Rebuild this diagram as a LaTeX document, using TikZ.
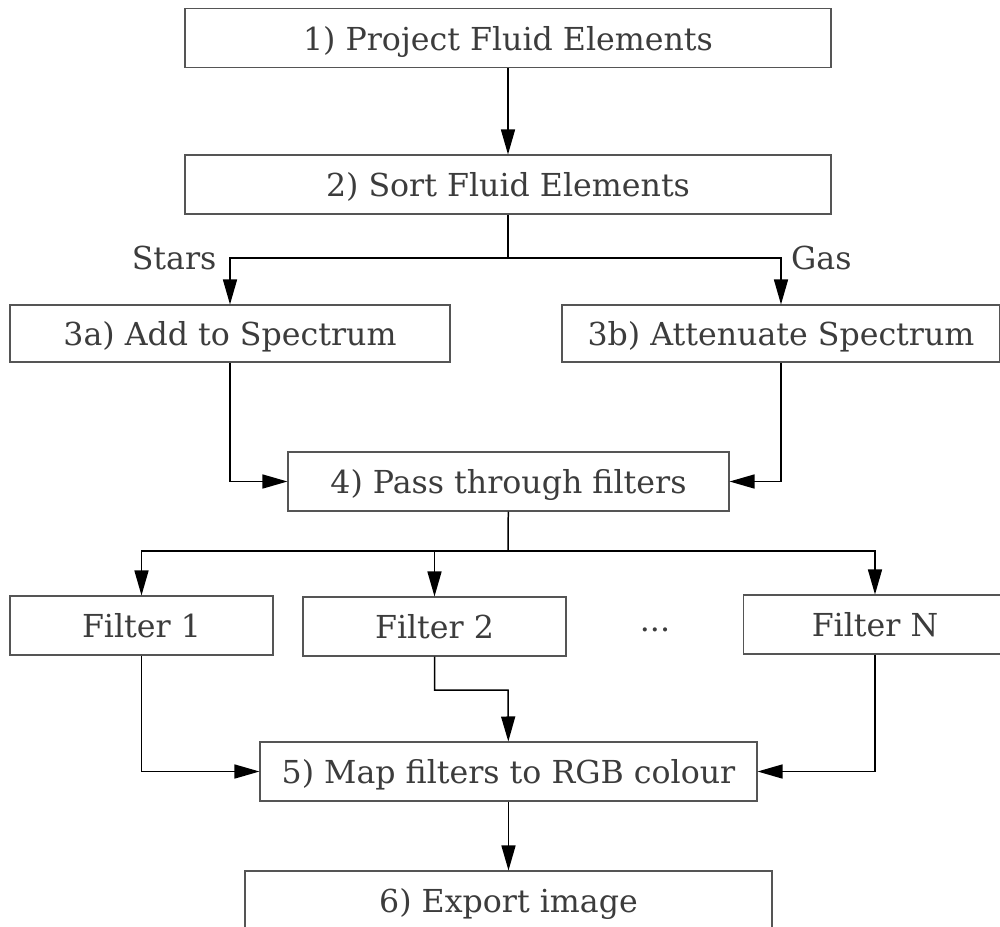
\documentclass[tikz,border=0pt]{standalone}
\usepackage{fontspec}
\setmainfont{DejaVu Serif}
\usetikzlibrary{positioning, arrows.meta}
\definecolor{txtgray}{HTML}{3C3C3C}
\definecolor{boxgray}{HTML}{555555}

\begin{document}
\begin{tikzpicture}[>={Triangle[length=5mm,width=2.8mm]}, line width=0.85pt,
    stepbox/.style={draw=boxgray, line width=0.6pt, text=txtgray, minimum height=1.18cm,
        inner sep=0pt, text height=15pt, text depth=1pt, font=\fontsize{18}{21}\selectfont},
    lbl/.style={text=txtgray, font=\fontsize{18}{21}\selectfont}]
    \useasboundingbox (0,0) rectangle (20,-18.52);

    \node[stepbox, minimum width=12.92cm] (proj) at (10.16,-0.76) {1) Project Fluid Elements};
    \node[stepbox, minimum width=12.92cm] (sort) at (10.16,-3.69) {2) Sort Fluid Elements};
    \node[stepbox, minimum width=8.8cm, minimum height=1.14cm] (add) at (4.6,-6.67) {3a) Add to Spectrum};
    \node[stepbox, minimum width=8.76cm, minimum height=1.14cm] (atten) at (15.62,-6.67) {3b) Attenuate Spectrum};
    \node[stepbox, minimum width=8.82cm] (pass) at (10.17,-9.63) {4) Pass through filters};
    \node[stepbox, minimum width=5.26cm] (filt1) at (2.83,-12.51) {Filter 1};
    \node[stepbox, minimum width=5.26cm] (filt2) at (8.69,-12.53) {Filter 2};
    \node[lbl] (dots) at (13.1,-12.6) {...};
    \node[stepbox, minimum width=5.26cm] (filtN) at (17.5,-12.49) {Filter N};
    \node[stepbox, minimum width=9.94cm] (rgb) at (10.17,-15.43) {5) Map filters to RGB colour};
    \node[stepbox, minimum width=10.54cm] (export) at (10.17,-18.01) {6) Export image};

    \coordinate (split1) at (10.16,-5.16);
    \coordinate (split2) at (10.16,-11.02);
    \coordinate (jog) at (10.16,-13.8);

    \draw[->] (proj) -- (sort);
    \draw (sort) -- (split1);
    \draw[->] (split1) -| node[lbl, pos=0.5, left, xshift=-4pt] (stars) {Stars} (add);
    \draw[->] (split1) -| node[lbl, pos=0.5, right, xshift=2pt] (gas) {Gas} (atten);
    \draw[->] (add) |- (pass);
    \draw[->] (atten) |- (pass);
    \draw (pass) -- (split2);
    \draw[->] (split2) -| (filt1);
    \draw[->] (split2) -| (filt2);
    \draw[->] (split2) -| (filtN);
    \draw[->] (filt1) |- (rgb);
    \draw[->] (filt2) |- (jog) -- (rgb);
    \draw[->] (filtN) |- (rgb);
    \draw[->] (rgb) -- (export);
\end{tikzpicture}
\end{document}
